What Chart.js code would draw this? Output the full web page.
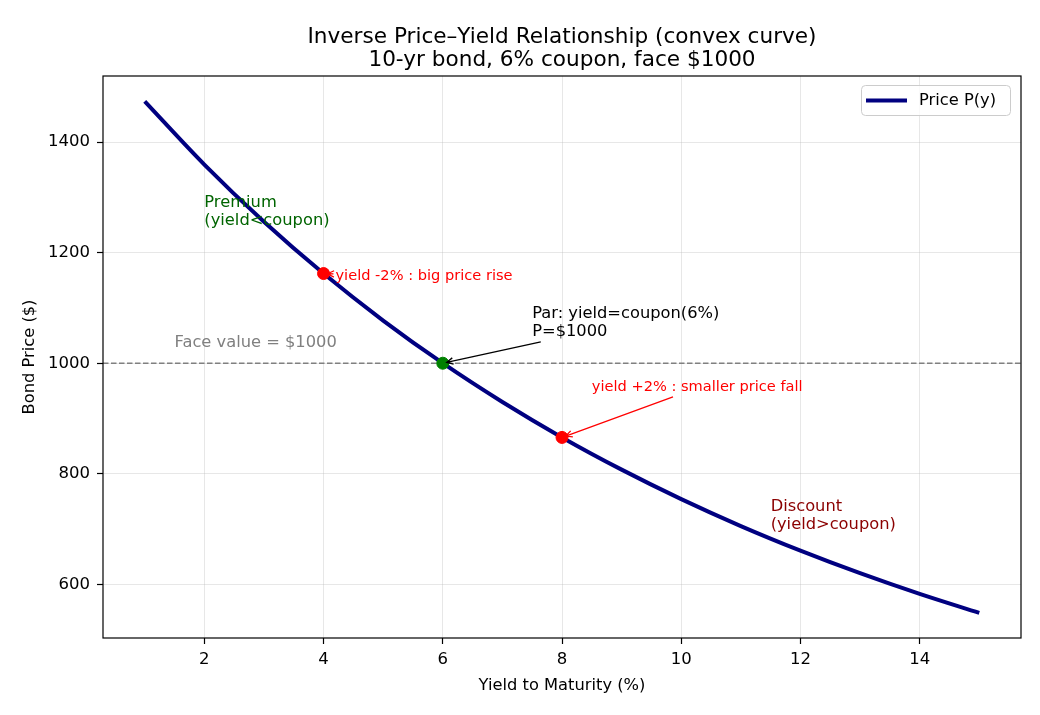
<!DOCTYPE html>
<html lang="en">
<head>
    <meta charset="UTF-8">
    <title>Price-Yield</title>
    <style>
        body { margin: 0; background: #fff; }
        canvas { display: block; }
    </style>
    <script src="https://cdn.jsdelivr.net/npm/chart.js"></script>
</head>
<body>
<canvas id="mychart" width="1040" height="715"></canvas>
<script>
    // values (10-yr bond, 6% coupon, face $1000)
    const yieldPct  = [1, 2, 3, 4, 5, 6, 7, 8, 9, 10, 11, 12, 13, 14, 15];
    const bondPrice = [1473.6, 1359.3, 1255.9, 1162.2, 1077.2, 1000.0, 929.8, 865.8,
                       807.5, 754.2, 705.5, 661.0, 620.2, 582.7, 548.3];

    const markYield = [4, 6, 8];
    const markPrice = [1162.2, 1000.0, 865.8];
    const markColor = ['#ff0000', '#008000', '#ff0000'];

    const xTicks = [2, 4, 6, 8, 10, 12, 14];
    const yTicks = [600, 800, 1000, 1200, 1400];
    const faceValue = 1000;

    const FONT = "'DejaVu Sans', sans-serif";

    // notes: text anchor in data coords (baseline of last line), optional arrow target
    const notes = [
        {lines: ['Premium', '(yield<coupon)'], x: 2, y: 1250, color: '#006400', size: 16.3},
        {lines: ['Discount', '(yield>coupon)'], x: 11.5, y: 700, color: '#8b0000', size: 16.3},
        {lines: ['Face value = $1000'], x: 1.5, y: 1030, color: '#808080', size: 16.3},
        {lines: ['Par: yield=coupon(6%)', 'P=$1000'], x: 7.5, y: 1050, color: '#000000', size: 16.3, to: [6, 1000]},
        {lines: ['yield -2% : big price rise'], x: 4.2, y: 1150, color: '#ff0000', size: 14.6, to: [4, 1162.2]},
        {lines: ['yield +2% : smaller price fall'], x: 8.5, y: 950, color: '#ff0000', size: 14.6, to: [8, 865.8]}
    ];

    function drawArrow(ctx, x0, y0, x1, y1, color) {
        const a = Math.atan2(y1 - y0, x1 - x0);
        const L = 6.4, W = 3.2;
        ctx.save();
        ctx.strokeStyle = color;
        ctx.lineWidth = 1.3;
        ctx.beginPath();
        ctx.moveTo(x0, y0);
        ctx.lineTo(x1, y1);
        ctx.moveTo(x1 - L * Math.cos(a) + W * Math.sin(a), y1 - L * Math.sin(a) - W * Math.cos(a));
        ctx.lineTo(x1, y1);
        ctx.lineTo(x1 - L * Math.cos(a) - W * Math.sin(a), y1 - L * Math.sin(a) + W * Math.cos(a));
        ctx.stroke();
        ctx.restore();
    }

    const overlay = {
        id: 'overlay',
        beforeDatasetsDraw(chart) {
            const ctx = chart.ctx, a = chart.chartArea;
            const y = chart.scales.y.getPixelForValue(faceValue);
            ctx.save();
            ctx.strokeStyle = '#808080';
            ctx.lineWidth = 1.4;
            ctx.setLineDash([5.5, 2.5]);
            ctx.beginPath();
            ctx.moveTo(a.left, y);
            ctx.lineTo(a.right, y);
            ctx.stroke();
            ctx.restore();
        },
        afterDatasetsDraw(chart) {
            const ctx = chart.ctx, xs = chart.scales.x, ys = chart.scales.y;
            notes.forEach(n => {
                const px = xs.getPixelForValue(n.x);
                const py = ys.getPixelForValue(n.y);
                const lh = n.size * 1.1;
                ctx.save();
                ctx.font = n.size + 'px ' + FONT;
                ctx.fillStyle = n.color;
                ctx.textAlign = 'left';
                ctx.textBaseline = 'alphabetic';
                let w = 0;
                n.lines.forEach((t, i) => {
                    const by = py - (n.lines.length - 1 - i) * lh;
                    ctx.fillText(t, px, by);
                    w = Math.max(w, ctx.measureText(t).width);
                });
                ctx.restore();
                if (n.to) {
                    // clip arrow at the text box edge, like annotate does
                    const l = px, r = px + w;
                    const t = py - (n.lines.length - 1) * lh - n.size * 0.76;
                    const b = py + n.size * 0.36;
                    const cx = (l + r) / 2, cy = (t + b) / 2;
                    const tx = xs.getPixelForValue(n.to[0]), ty = ys.getPixelForValue(n.to[1]);
                    const dx = tx - cx, dy = ty - cy;
                    const kx = dx !== 0 ? ((dx > 0 ? r : l) - cx) / dx : Infinity;
                    const ky = dy !== 0 ? ((dy > 0 ? b : t) - cy) / dy : Infinity;
                    const k = Math.min(kx, ky);
                    const len = Math.hypot(dx, dy);
                    const ux = dx / len, uy = dy / len;
                    const sx = cx + dx * k + ux * 2, sy = cy + dy * k + uy * 2;
                    const ex = tx - ux * 4, ey = ty - uy * 4;
                    drawArrow(ctx, sx, sy, ex, ey, n.color);
                }
            });
        },
        afterDraw(chart) {
            const ctx = chart.ctx, a = chart.chartArea;
            const cx = (a.left + a.right) / 2;
            ctx.save();
            // frame
            ctx.strokeStyle = '#000';
            ctx.lineWidth = 1.2;
            ctx.strokeRect(a.left, a.top, a.right - a.left, a.bottom - a.top);
            // title
            ctx.fillStyle = '#000';
            ctx.textAlign = 'center';
            ctx.textBaseline = 'alphabetic';
            ctx.font = '21.6px ' + FONT;
            ctx.fillText('Inverse Price\u2013Yield Relationship (convex curve)', cx, 43);
            ctx.fillText('10-yr bond, 6% coupon, face $1000', cx, 66);
            // axis titles
            ctx.font = '16.3px ' + FONT;
            ctx.fillText('Yield to Maturity (%)', cx, 690);
            ctx.save();
            ctx.translate(34, (a.top + a.bottom) / 2);
            ctx.rotate(-Math.PI / 2);
            ctx.fillText('Bond Price ($)', 0, 0);
            ctx.restore();
            // legend
            ctx.fillStyle = 'rgba(255,255,255,0.8)';
            ctx.strokeStyle = '#cccccc';
            ctx.lineWidth = 1;
            ctx.beginPath();
            ctx.roundRect(861.5, 85.5, 149, 30, 4);
            ctx.fill();
            ctx.stroke();
            ctx.strokeStyle = '#000080';
            ctx.lineWidth = 4;
            ctx.beginPath();
            ctx.moveTo(866, 100.5);
            ctx.lineTo(907, 100.5);
            ctx.stroke();
            ctx.fillStyle = '#000';
            ctx.textAlign = 'left';
            ctx.textBaseline = 'middle';
            ctx.fillText('Price P(y)', 919, 101);
            ctx.restore();
        }
    };

    const gridColor = 'rgba(176,176,176,0.3)';
    const tickFont = {family: FONT, size: 16.5};

    new Chart(document.getElementById('mychart'), {
        type: 'line',
        data: {
            datasets: [
                {
                    type: 'scatter',
                    label: 'marks',
                    data: markYield.map((x, i) => ({x: x, y: markPrice[i]})),
                    pointBackgroundColor: markColor,
                    pointBorderColor: markColor,
                    pointRadius: 6,
                    order: 1
                },
                {
                    label: 'Price P(y)',
                    data: yieldPct.map((x, i) => ({x: x, y: bondPrice[i]})),
                    borderColor: '#000080',
                    borderWidth: 4,
                    pointRadius: 0,
                    fill: false,
                    cubicInterpolationMode: 'monotone',
                    order: 2
                }
            ]
        },
        options: {
            responsive: false,
            animation: false,
            devicePixelRatio: 1,
            layout: {padding: {top: 76, right: 19, left: 0, bottom: 0}},
            plugins: {legend: {display: false}, title: {display: false}, tooltip: {enabled: false}},
            scales: {
                x: {
                    type: 'linear',
                    min: 0.3,
                    max: 15.7,
                    afterFit(s) { s.height = 77; },
                    afterBuildTicks(s) { s.ticks = xTicks.map(v => ({value: v})); },
                    grid: {color: gridColor, tickColor: '#000', tickLength: 6, tickWidth: 1.2},
                    border: {display: false},
                    ticks: {font: tickFont, color: '#000', padding: 6, maxRotation: 0, callback: v => String(v)}
                },
                y: {
                    type: 'linear',
                    min: 503,
                    max: 1519.5,
                    afterFit(s) { s.width = 103; },
                    afterBuildTicks(s) { s.ticks = yTicks.map(v => ({value: v})); },
                    grid: {color: gridColor, tickColor: '#000', tickLength: 6, tickWidth: 1.2},
                    border: {display: false},
                    ticks: {font: tickFont, color: '#000', padding: 7, callback: v => String(v)}
                }
            }
        },
        plugins: [overlay]
    });
</script>
</body>
</html>
